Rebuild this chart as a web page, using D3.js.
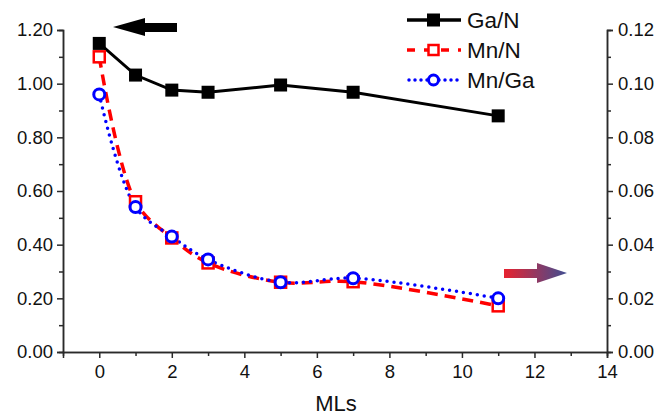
<!DOCTYPE html>
<html>
<head>
<meta charset="utf-8">
<script src="https://cdn.jsdelivr.net/npm/d3@7"></script>
<style>
  body { margin: 0; background: #fff; }
  svg { display: block; font-family: "Liberation Sans", Arial, sans-serif; }
</style>
</head>
<body>
<svg id="chart" width="670" height="416"></svg>
<script>
// monolayer thickness
const mls = [0, 1, 2, 3, 5, 7, 11];
// left axis
const gaN = [1.15, 1.032, 0.976, 0.968, 0.995, 0.968, 0.88];
// right axis
const mnN = [0.110, 0.056, 0.0425, 0.0332, 0.026, 0.0262, 0.0172];
const mnGa = [0.096, 0.054, 0.043, 0.0345, 0.026, 0.0275, 0.020];

const xTicks = [0, 2, 4, 6, 8, 10, 12, 14];
const yLeftTicks = [0, 0.2, 0.4, 0.6, 0.8, 1.0, 1.2];
const yRightTicks = [0, 0.02, 0.04, 0.06, 0.08, 0.10, 0.12];

const svg = d3.select('#chart');
const plot = { left: 63, right: 607, top: 30, bottom: 352 };

const x = d3.scaleLinear().domain([-1, 14]).range([plot.left, plot.right]);
const yL = d3.scaleLinear().domain([0, 1.2]).range([plot.bottom, plot.top]);
const yR = d3.scaleLinear().domain([0, 0.12]).range([plot.bottom, plot.top]);

const axisColor = '#2a2a2a';

function styleAxis(g) {
  g.select('.domain').attr('stroke', axisColor).attr('stroke-width', 1.5);
  g.selectAll('.tick line').attr('stroke', axisColor).attr('stroke-width', 1.5);
  g.selectAll('.tick text').attr('fill', '#111').style('font-size', '18.5px');
}

// minor ticks first so the major ones sit on top
svg.append('g')
  .attr('transform', `translate(0,${plot.bottom})`)
  .call(d3.axisBottom(x).tickValues([1, 3, 5, 7, 9, 11, 13]).tickSize(4).tickFormat(''))
  .call(styleAxis);
svg.append('g')
  .attr('transform', `translate(${plot.left},0)`)
  .call(d3.axisLeft(yL).tickValues([0.1, 0.3, 0.5, 0.7, 0.9, 1.1]).tickSize(4).tickFormat(''))
  .call(styleAxis);
svg.append('g')
  .attr('transform', `translate(${plot.right},0)`)
  .call(d3.axisRight(yR).tickValues([0.01, 0.03, 0.05, 0.07, 0.09, 0.11]).tickSize(4).tickFormat(''))
  .call(styleAxis);

svg.append('g')
  .attr('transform', `translate(0,${plot.bottom})`)
  .call(d3.axisBottom(x).tickValues(xTicks).tickSize(6).tickPadding(7).tickFormat(d3.format('d')))
  .call(styleAxis);
svg.append('g')
  .attr('transform', `translate(${plot.left},0)`)
  .call(d3.axisLeft(yL).tickValues(yLeftTicks).tickSize(6).tickPadding(4).tickFormat(d3.format('.2f')))
  .call(styleAxis);
svg.append('g')
  .attr('transform', `translate(${plot.right},0)`)
  .call(d3.axisRight(yR).tickValues(yRightTicks).tickSize(6).tickPadding(5).tickFormat(d3.format('.2f')))
  .call(styleAxis);

svg.append('text')
  .attr('x', 336).attr('y', 411)
  .attr('text-anchor', 'middle')
  .style('font-size', '22px')
  .attr('fill', '#111')
  .text('MLs');

// series lines
const lineL = d3.line().x((d, i) => x(mls[i])).y(d => yL(d));
const smoothR = d3.line().curve(d3.curveCatmullRom.alpha(0.5))
  .x((d, i) => x(mls[i])).y(d => yR(d));

svg.append('path').datum(mnN)
  .attr('d', smoothR)
  .attr('fill', 'none').attr('stroke', '#f00')
  .attr('stroke-width', 3.5).attr('stroke-dasharray', '11 7');

svg.append('path').datum(mnGa)
  .attr('d', smoothR)
  .attr('fill', 'none').attr('stroke', '#00f')
  .attr('stroke-width', 3.5).attr('stroke-linecap', 'round')
  .attr('stroke-dasharray', '0 7');

svg.append('path').datum(gaN)
  .attr('d', lineL)
  .attr('fill', 'none').attr('stroke', '#000')
  .attr('stroke-width', 3);

// markers
svg.append('g').selectAll('rect').data(mnN).join('rect')
  .attr('x', (d, i) => x(mls[i]) - 5.5).attr('y', d => yR(d) - 5.5)
  .attr('width', 11).attr('height', 11)
  .attr('fill', '#fff').attr('stroke', '#f00').attr('stroke-width', 2.5);

svg.append('g').selectAll('circle').data(mnGa).join('circle')
  .attr('cx', (d, i) => x(mls[i])).attr('cy', d => yR(d))
  .attr('r', 5.5)
  .attr('fill', '#fff').attr('stroke', '#00f').attr('stroke-width', 3);

svg.append('g').selectAll('rect').data(gaN).join('rect')
  .attr('x', (d, i) => x(mls[i]) - 6.5).attr('y', d => yL(d) - 6.5)
  .attr('width', 13).attr('height', 13)
  .attr('fill', '#000');

// legend
const legend = [
  { name: 'Ga/N', color: '#000', dash: null, cap: 'butt', shape: 'filled' },
  { name: 'Mn/N', color: '#f00', dash: '8 9', cap: 'butt', shape: 'square' },
  { name: 'Mn/Ga', color: '#00f', dash: '0 6', cap: 'round', shape: 'circle' }
];
const lg = svg.append('g');
legend.forEach((s, i) => {
  const cy = 20 + i * 30;
  const l = lg.append('line')
    .attr('x1', s.cap === 'round' ? 409 : 407).attr('x2', 461)
    .attr('y1', cy).attr('y2', cy)
    .attr('stroke', s.color).attr('stroke-width', 3.5)
    .attr('stroke-linecap', s.cap);
  if (s.dash) l.attr('stroke-dasharray', s.dash);
  if (s.shape === 'filled') {
    lg.append('rect').attr('x', 427).attr('y', cy - 6.5).attr('width', 13).attr('height', 13).attr('fill', '#000');
  } else if (s.shape === 'square') {
    lg.append('rect').attr('x', 428.5).attr('y', cy - 5).attr('width', 10).attr('height', 10)
      .attr('fill', '#fff').attr('stroke', s.color).attr('stroke-width', 2.5);
  } else {
    lg.append('circle').attr('cx', 433.5).attr('cy', cy).attr('r', 5)
      .attr('fill', '#fff').attr('stroke', s.color).attr('stroke-width', 3);
  }
  lg.append('text').attr('x', 467).attr('y', cy + 7.5)
    .style('font-size', '22.5px').attr('fill', '#111').text(s.name);
});

// arrows pointing at the axis each series belongs to
svg.append('path')
  .attr('d', 'M113,27 L145,18 L145,23 L177,23 L177,32 L145,32 L145,36 Z')
  .attr('fill', '#000');

const grad = svg.append('defs').append('linearGradient')
  .attr('id', 'arrowGrad').attr('x1', '0%').attr('x2', '100%');
grad.append('stop').attr('offset', '0%').attr('stop-color', '#e8222f');
grad.append('stop').attr('offset', '100%').attr('stop-color', '#3f4e92');

svg.append('path')
  .attr('d', 'M504,269 L537,269 L537,263 L567,273 L537,283 L537,278 L504,278 Z')
  .attr('fill', 'url(#arrowGrad)');
</script>
</body>
</html>
